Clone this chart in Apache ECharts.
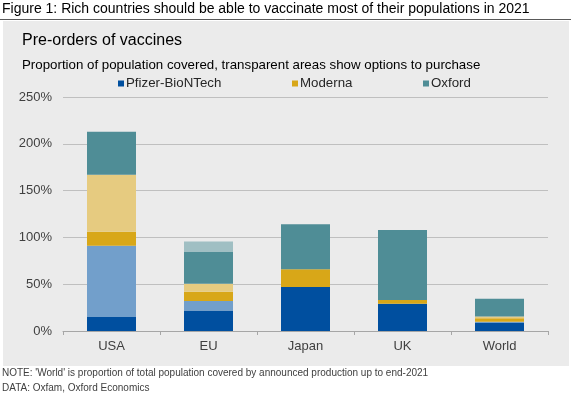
<!DOCTYPE html>
<html>
<head>
<meta charset="utf-8">
<script src="https://cdn.jsdelivr.net/npm/echarts@6/dist/echarts.min.js"></script>
<style>
    html, body { margin: 0; padding: 0; background: #fff; }
    #chart { width: 573px; height: 396px; }
</style>
</head>
<body>
<div id="chart"></div>
<script>
    // values, % of population
    let countries = ['USA', 'EU', 'Japan', 'UK', 'World'];
    let pfizer        = [15, 22, 47, 29, 9];
    let pfizerOptions = [76, 10, 0, 0, 1];
    let moderna        = [15, 10, 19, 4, 3.5];
    let modernaOptions = [61, 8.5, 0, 0, 2];
    let oxford        = [46, 34, 48, 75, 19];
    let oxfordOptions = [0, 11, 0, 0, 0];
    let yTicks = [0, 50, 100, 150, 200, 250];

    let font = 'Liberation Sans, Arial, sans-serif';
    let chart = echarts.init(document.getElementById('chart'));

    function bar(name, data, color) {
        return {
            name: name,
            type: 'bar',
            stack: 'total',
            barWidth: 49,
            data: data,
            itemStyle: { color: color },
            emphasis: { disabled: true }
        };
    }

    function legendItem(name, left) {
        return {
            data: [name],
            left: left,
            top: 72,
            itemWidth: 6,
            itemHeight: 6,
            itemGap: 4,
            icon: 'rect',
            selectedMode: false,
            textStyle: { fontFamily: font, fontSize: 13.3, color: '#262626', padding: [0, 0, 0, -3] }
        };
    }

    let option = {
        backgroundColor: '#fff',
        animation: false,
        graphic: [
            { type: 'rect', shape: { x: 3, y: 21, width: 566, height: 345 }, style: { fill: '#ebebeb' }, z: -10 },
            { type: 'line', shape: { x1: 0, y1: 19.5, x2: 571, y2: 19.5 }, style: { stroke: '#595959', lineWidth: 1 } },
            { type: 'text', left: 2, top: 2, style: { text: 'Figure 1: Rich countries should be able to vaccinate most of their populations in 2021', font: '14px ' + font, fill: '#000' } },
            { type: 'text', left: 2, top: 368, style: { text: "NOTE: 'World' is proportion of total population covered by announced production up to end-2021", font: '10px ' + font, fill: '#404040' } },
            { type: 'text', left: 2, top: 383, style: { text: 'DATA: Oxfam, Oxford Economics', font: '10px ' + font, fill: '#404040' } }
        ],
        title: [
            { text: 'Pre-orders of vaccines', left: 17, top: 28, textStyle: { fontFamily: font, fontSize: 16, fontWeight: 'normal', color: '#000' } },
            { text: 'Proportion of population covered, transparent areas show options to purchase', left: 17, top: 54, textStyle: { fontFamily: font, fontSize: 13.3, fontWeight: 'normal', color: '#000' } }
        ],
        legend: [
            legendItem('Pfizer-BioNTech', 113),
            legendItem('Moderna', 287),
            legendItem('Oxford', 418)
        ],
        grid: { left: 63, right: 25, top: 97, bottom: 65 },
        xAxis: {
            type: 'category',
            data: countries,
            axisLine: { lineStyle: { color: '#a6a6a6' } },
            axisTick: { show: true, length: 4, lineStyle: { color: '#a6a6a6' } },
            axisLabel: { fontFamily: font, fontSize: 13, color: '#404040', margin: 9 }
        },
        yAxis: {
            type: 'value',
            min: yTicks[0],
            max: yTicks[yTicks.length - 1],
            interval: 50,
            axisLine: { show: false },
            axisTick: { show: false },
            splitLine: { lineStyle: { color: '#bfbfbf' } },
            axisLabel: { fontFamily: font, fontSize: 13, color: '#404040', margin: 11, formatter: '{value}%' }
        },
        series: [
            bar('Pfizer-BioNTech', pfizer, '#004f9f'),
            bar('Pfizer-BioNTech options', pfizerOptions, '#729fcb'),
            bar('Moderna', moderna, '#d8a718'),
            bar('Moderna options', modernaOptions, '#e6cb80'),
            bar('Oxford', oxford, '#4f8d96'),
            bar('Oxford options', oxfordOptions, '#a0bfc3')
        ]
    };

    chart.setOption(option);
</script>
</body>
</html>
